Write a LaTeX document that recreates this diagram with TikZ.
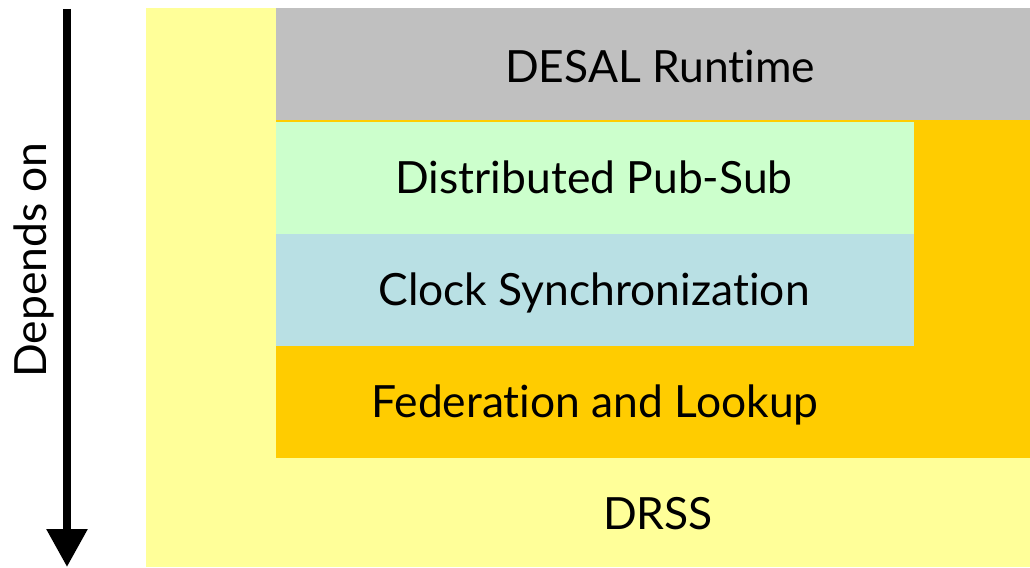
\documentclass[tikz,border=0pt]{standalone}
\usepackage{fontspec}
\setmainfont{Lato}[Ligatures=NoCommon]
\usepackage{tikz}
\usetikzlibrary{arrows.meta}
\definecolor{drssyellow}{HTML}{FFFF99}
\definecolor{runtimegrey}{HTML}{C0C0C0}
\definecolor{fedorange}{HTML}{FFCC00}
\definecolor{pubsubgreen}{HTML}{CCFFCC}
\definecolor{clockblue}{HTML}{B9E0E4}
\newcommand{\slab}[5]{ \fill[#5] ( #1 , #2 ) rectangle ( #3 , #4 );}
\newcommand{\lablayer}[4]{\node[layertext] (#1) at ( #2 , #3 ) {#4};}
\tikzset{layertext/.style={anchor=base,inner sep=0pt,font=\fontsize{33.3}{40}\selectfont}}

\begin{document}
\begin{tikzpicture}[x=0.75pt,y=-0.75pt]
\useasboundingbox (0,0) rectangle (1030,567);
% layers, back to front
\slab{146}{8}{1030}{567}{drssyellow}
\slab{276}{8}{1030}{122}{runtimegrey}
\slab{276}{120}{1030}{458}{fedorange}
\slab{276}{122}{914}{234}{pubsubgreen}
\slab{276}{234}{914}{346}{clockblue}
% layer labels
\lablayer{runtime}{660}{82}{DESAL Runtime}
\lablayer{pubsub}{594}{193}{Distributed Pub-Sub}
\lablayer{clock}{594}{305}{Clock Synchronization}
\lablayer{federation}{595}{417}{Federation and Lookup}
\lablayer{drss}{658}{529}{DRSS}
% dependency arrow
\coordinate (deptop) at (67,9);
\coordinate (depbot) at (67,567);
\draw[line width=6pt,-{Triangle[width=29.5pt,length=28.5pt]}] (deptop) -- (depbot);
\node[layertext,rotate=90] (depends) at (46,260) {Depends on};
\end{tikzpicture}
\end{document}
